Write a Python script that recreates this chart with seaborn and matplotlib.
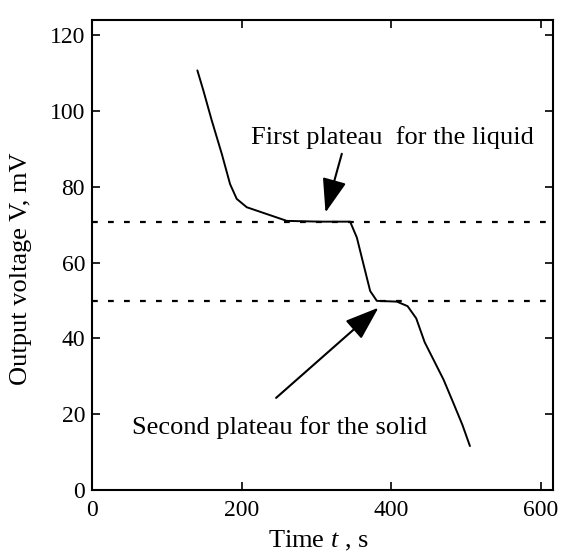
import matplotlib
matplotlib.use("Agg")
import matplotlib.pyplot as plt
import seaborn as sns
import pandas as pd

# ---- data ----
time_s = [140.8, 148.8, 160.0, 173.4, 184.5, 193.4, 206.8, 233.6, 260.3, 304.8,
          344.9, 353.9, 362.7, 371.7, 380.6, 407.4, 421.7, 433.2, 444.5, 458.3,
          469.8, 483.4, 494.9, 505.0]
voltage_mV = [110.7, 105.4, 97.5, 88.7, 80.7, 76.8, 74.6, 72.8, 71.0, 70.8,
              70.8, 66.6, 59.6, 52.5, 49.9, 49.7, 48.5, 45.3, 39.0, 33.6,
              29.1, 22.7, 17.2, 11.6]
plateau_levels = [70.8, 49.8]
x_ticks = [0, 200, 400, 600]
y_ticks = [0, 20, 40, 60, 80, 100, 120]

label_liquid = "First plateau  for the liquid"
label_solid = "Second plateau for the solid"
liquid_text_xy = (402, 93.1)
liquid_arrow_tail = (333.8, 88.7)
liquid_arrow_tip = (312.0, 73.2)
solid_text_xy = (251, 16.6)
solid_arrow_tail = (246, 24.3)
solid_arrow_tip = (382.8, 48.1)

df = pd.DataFrame({"t": time_s, "V": voltage_mV})

sns.set_style("ticks")
plt.rcParams["font.family"] = ["Liberation Serif", "DejaVu Serif"]
plt.rcParams["mathtext.fontset"] = "custom"
plt.rcParams["mathtext.rm"] = "Liberation Serif"
plt.rcParams["mathtext.it"] = "Liberation Serif:italic"
plt.rcParams["text.color"] = "black"
plt.rcParams["axes.labelcolor"] = "black"

fig = plt.figure(figsize=(5.67, 5.52), dpi=100)
ax = fig.add_axes([92 / 567, 1 - 490 / 552, (553 - 92) / 567, (490 - 20) / 552])

sns.lineplot(data=df, x="t", y="V", ax=ax, color="black", lw=1.4, sort=False,
             estimator=None)
for lvl in plateau_levels:
    ax.axhline(lvl, color="black", lw=1.6, dashes=(2.6, 4.6))

ax.set_xlim(0, 616)
ax.set_ylim(0, 124)
ax.set_xticks(x_ticks)
ax.set_yticks(y_ticks)
ax.tick_params(direction="in", length=6, width=1.2, top=True, right=True,
               labelsize=17, colors="black")
ax.tick_params(axis="x", pad=7)
ax.tick_params(axis="y", pad=5)
for s in ax.spines.values():
    s.set_linewidth(1.5)
    s.set_color("black")

ax.set_xlabel("Time $t$ , s", fontsize=19)
ax.set_ylabel("Output voltage V, mV", fontsize=19)
ax.xaxis.set_label_coords(0.49, -0.082)
ax.yaxis.set_label_coords(-0.130, 0.471)

ax.text(*liquid_text_xy, label_liquid, fontsize=19, ha="center", va="center")
ax.text(*solid_text_xy, label_solid, fontsize=19, ha="center", va="center")

arrow_kw = dict(arrowstyle="-|>,head_length=1.4,head_width=0.5",
                color="black", lw=1.5, mutation_scale=15, shrinkA=0, shrinkB=0)
ax.annotate("", xy=liquid_arrow_tip, xytext=liquid_arrow_tail, arrowprops=arrow_kw)
ax.annotate("", xy=solid_arrow_tip, xytext=solid_arrow_tail, arrowprops=arrow_kw)

fig.savefig("out.png", dpi=100)
